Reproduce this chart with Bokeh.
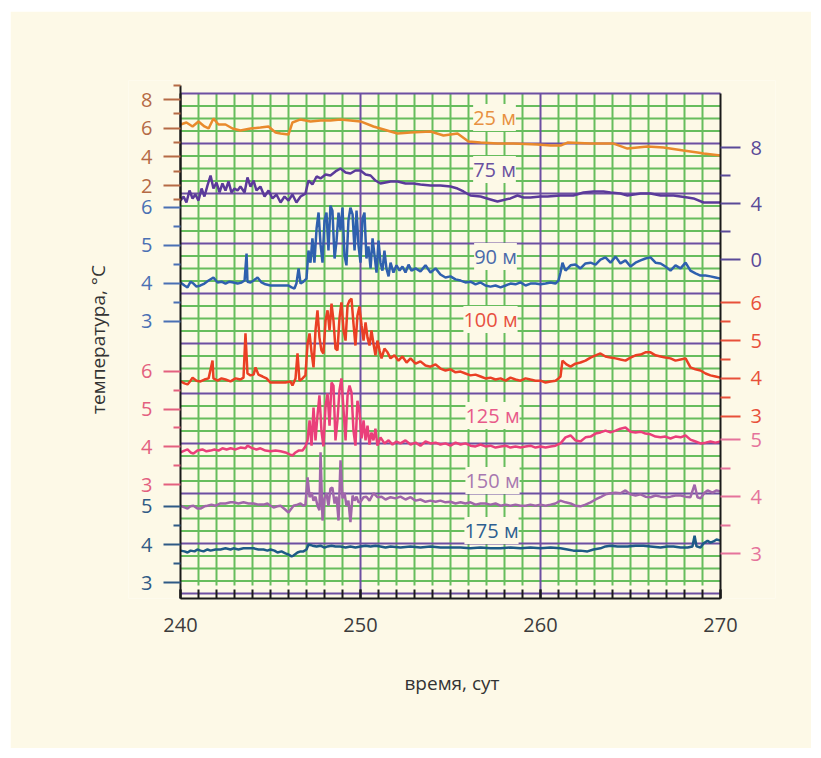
from bokeh.plotting import figure
from bokeh.models import Range1d, LinearAxis, FixedTicker, Label
from bokeh.embed import file_html
from bokeh.resources import INLINE

# ---------------- data: (day, temperature °C) ----------------
S25 = [(240.00, 6.26), (240.33, 6.40), (240.67, 6.12), (241.00, 6.47), (241.33, 6.12), (241.56, 5.98),
       (241.83, 6.68), (242.11, 6.26), (242.50, 6.26), (242.89, 5.98), (243.33, 5.84), (243.89, 5.98),
       (244.44, 6.05), (244.89, 6.12), (245.28, 5.70), (245.56, 5.63), (246.00, 5.56), (246.22, 6.40),
       (246.67, 6.61), (247.22, 6.47), (247.78, 6.54), (248.33, 6.54), (248.89, 6.61), (249.44, 6.54),
       (250.00, 6.47), (250.72, 6.12), (251.67, 5.77), (252.06, 5.63), (252.78, 5.70), (253.89, 5.77),
       (254.61, 5.49), (255.39, 5.63), (256.00, 5.07), (256.67, 5.00), (257.61, 4.93), (258.50, 4.93),
       (259.83, 4.86), (260.56, 4.79), (261.11, 4.79), (261.50, 5.00), (262.78, 4.93), (264.06, 4.93),
       (264.83, 4.58), (265.94, 4.72), (266.83, 4.66), (267.94, 4.45), (268.72, 4.31), (269.06, 4.24),
       (270.00, 4.10)]

S75 = [(240.00, 4.21), (240.17, 4.50), (240.33, 4.07), (240.50, 4.93), (240.67, 4.36), (240.83, 4.64),
       (241.00, 4.21), (241.17, 5.07), (241.33, 4.50), (241.50, 5.29), (241.67, 6.00), (241.83, 5.07),
       (242.00, 5.50), (242.17, 4.79), (242.33, 5.43), (242.50, 4.93), (242.67, 5.57), (242.83, 4.79),
       (243.00, 5.07), (243.17, 4.93), (243.33, 5.21), (243.56, 4.79), (243.72, 5.86), (243.89, 5.21),
       (244.06, 5.64), (244.22, 4.93), (244.44, 5.21), (244.67, 4.50), (244.89, 4.93), (245.11, 4.36),
       (245.33, 4.64), (245.56, 4.07), (245.78, 4.50), (246.00, 4.21), (246.22, 4.64), (246.44, 4.07),
       (246.67, 4.50), (246.94, 4.71), (247.11, 5.64), (247.33, 5.36), (247.56, 5.93), (247.78, 5.79),
       (248.06, 6.07), (248.33, 6.00), (248.61, 6.29), (248.89, 6.50), (249.17, 6.21), (249.44, 6.14),
       (249.72, 6.36), (250.00, 6.36), (250.28, 6.07), (250.56, 6.00), (250.83, 5.64), (251.11, 5.43),
       (251.67, 5.57), (252.06, 5.57), (252.50, 5.43), (252.94, 5.43), (253.33, 5.36), (253.89, 5.29),
       (254.44, 5.29), (255.00, 5.21), (255.39, 5.07), (255.72, 4.86), (256.11, 4.57), (256.67, 4.50),
       (257.22, 4.29), (257.61, 4.14), (258.06, 4.29), (258.33, 4.36), (258.72, 4.57), (259.06, 4.43),
       (259.44, 4.43), (260.00, 4.50), (260.39, 4.50), (261.11, 4.57), (261.83, 4.57), (262.39, 4.79),
       (262.94, 4.86), (263.50, 4.86), (263.89, 4.79), (264.44, 4.71), (264.83, 4.57), (265.56, 4.71),
       (266.11, 4.71), (266.67, 4.57), (267.39, 4.57), (268.17, 4.43), (268.50, 4.36), (269.06, 4.07),
       (269.56, 4.07), (270.00, 4.07)]

S90 = [(240.00, 4.02), (240.22, 3.94), (240.39, 3.89), (240.56, 4.04), (240.72, 3.99), (240.89, 3.91),
       (241.11, 3.94), (241.33, 3.99), (241.56, 4.07), (241.83, 4.15), (242.06, 4.02), (242.28, 4.04),
       (242.50, 3.99), (242.72, 4.04), (242.94, 4.02), (243.17, 3.99), (243.39, 4.02), (243.56, 4.07),
       (243.67, 4.78), (243.72, 4.04), (243.89, 4.02), (244.06, 4.07), (244.28, 4.15), (244.50, 4.02),
       (244.72, 3.97), (245.00, 3.94), (245.28, 3.94), (245.56, 3.94), (245.83, 3.94), (246.00, 3.94),
       (246.17, 3.89), (246.33, 3.86), (246.44, 3.99), (246.56, 4.39), (246.67, 3.99), (246.83, 4.04),
       (247.00, 4.12), (247.11, 4.86), (247.22, 4.54), (247.33, 5.18), (247.44, 4.54), (247.56, 5.44),
       (247.67, 5.86), (247.78, 5.02), (247.89, 4.54), (248.00, 5.65), (248.11, 5.86), (248.22, 4.86),
       (248.33, 6.04), (248.44, 5.91), (248.56, 4.65), (248.67, 5.12), (248.78, 5.86), (248.89, 5.39),
       (249.00, 5.99), (249.11, 4.73), (249.22, 4.47), (249.33, 5.65), (249.44, 5.99), (249.56, 5.81),
       (249.67, 4.86), (249.78, 5.91), (249.89, 4.99), (250.00, 4.54), (250.11, 5.70), (250.22, 5.86),
       (250.33, 4.65), (250.44, 4.97), (250.56, 4.39), (250.67, 5.18), (250.78, 4.73), (250.89, 4.28),
       (251.00, 5.12), (251.11, 4.54), (251.22, 4.33), (251.33, 4.86), (251.44, 4.39), (251.56, 4.18),
       (251.67, 4.54), (251.83, 4.28), (252.00, 4.47), (252.17, 4.33), (252.33, 4.44), (252.50, 4.28),
       (252.67, 4.49), (252.83, 4.33), (253.06, 4.39), (253.33, 4.31), (253.61, 4.47), (253.89, 4.28),
       (254.17, 4.39), (254.44, 4.23), (254.72, 4.15), (255.00, 4.18), (255.28, 4.10), (255.56, 4.07),
       (255.83, 4.02), (256.11, 4.04), (256.39, 3.97), (256.67, 4.02), (256.94, 3.94), (257.22, 3.91),
       (257.50, 3.94), (257.78, 3.89), (258.06, 3.94), (258.33, 3.99), (258.61, 3.97), (258.89, 4.02),
       (259.17, 3.94), (259.44, 3.99), (259.72, 3.99), (260.00, 3.97), (260.28, 3.99), (260.56, 4.02),
       (260.83, 3.99), (261.00, 4.07), (261.11, 4.28), (261.22, 4.54), (261.39, 4.33), (261.67, 4.47),
       (261.94, 4.49), (262.22, 4.39), (262.50, 4.52), (262.78, 4.54), (263.06, 4.49), (263.33, 4.62),
       (263.61, 4.68), (263.89, 4.54), (264.17, 4.70), (264.44, 4.52), (264.72, 4.60), (265.00, 4.44),
       (265.28, 4.54), (265.56, 4.60), (265.83, 4.65), (266.11, 4.68), (266.39, 4.54), (266.67, 4.52),
       (266.94, 4.44), (267.22, 4.33), (267.50, 4.47), (267.78, 4.39), (268.06, 4.54), (268.33, 4.33),
       (268.61, 4.26), (268.89, 4.20), (269.17, 4.20), (269.44, 4.18), (269.72, 4.15), (270.00, 4.12)]

S100 = [(240.00, 3.92), (240.22, 3.87), (240.39, 3.84), (240.56, 3.94), (240.67, 4.02), (240.89, 3.94),
        (241.11, 3.92), (241.33, 3.97), (241.56, 4.00), (241.78, 4.47), (241.83, 4.00), (242.06, 3.94),
        (242.28, 4.00), (242.50, 3.97), (242.78, 3.92), (243.06, 4.00), (243.33, 3.97), (243.50, 4.02),
        (243.61, 5.19), (243.72, 4.13), (243.89, 4.08), (244.06, 4.10), (244.17, 4.29), (244.33, 4.10),
        (244.56, 4.05), (244.78, 4.00), (245.00, 3.89), (245.28, 3.89), (245.56, 3.89), (245.83, 3.89),
        (246.11, 3.92), (246.22, 3.81), (246.39, 4.00), (246.50, 4.66), (246.61, 3.94), (246.78, 4.00),
        (246.94, 4.08), (247.06, 4.92), (247.17, 5.19), (247.28, 4.69), (247.39, 4.29), (247.50, 5.27),
        (247.61, 5.80), (247.72, 5.08), (247.83, 4.74), (247.94, 4.66), (248.06, 5.53), (248.17, 5.80),
        (248.28, 5.27), (248.39, 5.98), (248.50, 5.53), (248.61, 4.79), (248.72, 4.74), (248.83, 5.58),
        (248.94, 6.01), (249.06, 5.27), (249.17, 5.00), (249.28, 5.93), (249.39, 6.06), (249.50, 6.11),
        (249.61, 5.45), (249.72, 4.87), (249.83, 5.66), (249.94, 5.90), (250.06, 5.40), (250.17, 5.00),
        (250.28, 5.48), (250.39, 5.08), (250.50, 4.87), (250.61, 5.27), (250.72, 4.92), (250.83, 4.61),
        (250.94, 5.00), (251.06, 4.74), (251.17, 4.53), (251.33, 4.79), (251.50, 4.69), (251.67, 4.53),
        (251.89, 4.61), (252.11, 4.47), (252.33, 4.58), (252.56, 4.42), (252.78, 4.53), (253.06, 4.39),
        (253.33, 4.45), (253.61, 4.34), (253.89, 4.31), (254.17, 4.37), (254.44, 4.26), (254.72, 4.21),
        (255.00, 4.24), (255.28, 4.16), (255.56, 4.18), (255.83, 4.13), (256.11, 4.08), (256.39, 4.10),
        (256.67, 4.05), (256.94, 4.00), (257.22, 4.02), (257.50, 3.97), (257.78, 4.00), (258.06, 3.94),
        (258.33, 4.02), (258.61, 3.97), (258.89, 3.94), (259.17, 4.00), (259.44, 3.97), (259.72, 3.94),
        (260.00, 3.94), (260.28, 3.89), (260.56, 3.92), (260.83, 3.94), (261.00, 4.00), (261.11, 4.05),
        (261.22, 4.47), (261.44, 4.37), (261.67, 4.31), (261.94, 4.39), (262.22, 4.42), (262.50, 4.47),
        (262.78, 4.55), (263.06, 4.61), (263.33, 4.66), (263.61, 4.58), (263.89, 4.55), (264.17, 4.53),
        (264.44, 4.50), (264.72, 4.47), (265.00, 4.55), (265.28, 4.61), (265.56, 4.63), (265.83, 4.69),
        (266.11, 4.69), (266.39, 4.61), (266.67, 4.58), (266.94, 4.55), (267.22, 4.53), (267.50, 4.47),
        (267.78, 4.50), (268.06, 4.53), (268.33, 4.29), (268.61, 4.24), (268.89, 4.21), (269.17, 4.13),
        (269.44, 4.08), (269.72, 4.05), (270.00, 4.02)]

S125 = [(240.00, 3.85), (240.22, 3.90), (240.39, 3.93), (240.56, 3.85), (240.72, 3.82), (240.94, 3.90),
        (241.22, 3.93), (241.44, 3.88), (241.67, 3.90), (241.89, 3.93), (242.11, 3.90), (242.33, 3.96),
        (242.56, 3.93), (242.78, 3.96), (243.06, 3.93), (243.33, 3.98), (243.61, 3.96), (243.72, 4.03),
        (244.00, 3.96), (244.22, 3.93), (244.44, 3.96), (244.72, 3.90), (245.00, 3.88), (245.28, 3.90),
        (245.56, 3.88), (245.83, 3.85), (246.06, 3.80), (246.22, 3.77), (246.39, 3.85), (246.56, 3.90),
        (246.78, 3.90), (246.94, 4.01), (247.06, 4.17), (247.17, 4.70), (247.28, 4.03), (247.39, 5.04),
        (247.50, 4.17), (247.61, 4.83), (247.72, 5.36), (247.83, 4.43), (247.94, 4.01), (248.06, 5.09),
        (248.17, 5.41), (248.28, 4.56), (248.39, 5.70), (248.50, 5.62), (248.61, 4.17), (248.72, 4.70),
        (248.83, 5.49), (248.94, 5.81), (249.06, 4.96), (249.17, 4.17), (249.28, 5.36), (249.39, 5.62),
        (249.50, 5.44), (249.61, 4.43), (249.72, 4.03), (249.83, 5.22), (249.94, 4.96), (250.06, 4.22),
        (250.17, 4.70), (250.28, 4.17), (250.39, 4.56), (250.50, 4.06), (250.61, 4.38), (250.72, 4.17),
        (250.83, 4.48), (250.94, 4.03), (251.11, 4.25), (251.33, 4.09), (251.56, 4.17), (251.78, 4.06),
        (252.00, 4.14), (252.22, 4.09), (252.50, 4.17), (252.78, 4.06), (253.06, 4.11), (253.33, 4.03),
        (253.61, 4.14), (253.89, 4.09), (254.17, 4.11), (254.44, 4.06), (254.72, 4.09), (255.00, 4.03),
        (255.28, 4.11), (255.56, 4.06), (255.83, 4.09), (256.11, 4.03), (256.39, 4.01), (256.67, 4.06),
        (256.94, 4.01), (257.22, 4.03), (257.50, 3.98), (257.78, 4.01), (258.06, 4.03), (258.33, 3.98),
        (258.61, 4.01), (258.89, 3.98), (259.17, 4.01), (259.44, 4.03), (259.72, 3.98), (260.00, 4.01),
        (260.28, 3.98), (260.56, 4.01), (260.83, 4.03), (261.11, 4.09), (261.39, 4.25), (261.67, 4.30),
        (261.94, 4.17), (262.22, 4.14), (262.50, 4.25), (262.78, 4.27), (263.06, 4.35), (263.33, 4.38),
        (263.61, 4.43), (263.89, 4.38), (264.17, 4.43), (264.44, 4.48), (264.72, 4.51), (265.00, 4.40),
        (265.28, 4.38), (265.56, 4.40), (265.83, 4.35), (266.11, 4.33), (266.39, 4.27), (266.67, 4.25),
        (266.94, 4.27), (267.22, 4.22), (267.50, 4.27), (267.78, 4.25), (268.06, 4.30), (268.33, 4.19),
        (268.61, 4.14), (268.89, 4.09), (269.17, 4.11), (269.44, 4.14), (269.72, 4.11), (270.00, 4.14)]

S150 = [(240.00, 3.84), (240.22, 3.81), (240.39, 3.79), (240.56, 3.83), (240.72, 3.84), (240.94, 3.79),
        (241.11, 3.79), (241.33, 3.83), (241.50, 3.84), (241.72, 3.86), (241.94, 3.84), (242.22, 3.88),
        (242.50, 3.88), (242.78, 3.90), (242.94, 3.90), (243.22, 3.88), (243.50, 3.90), (243.78, 3.88),
        (244.06, 3.88), (244.33, 3.86), (244.61, 3.86), (244.83, 3.88), (245.00, 3.84), (245.17, 3.81),
        (245.39, 3.83), (245.56, 3.84), (245.83, 3.77), (246.00, 3.72), (246.11, 3.77), (246.28, 3.84),
        (246.50, 3.86), (246.67, 3.88), (246.83, 3.84), (246.94, 3.86), (247.06, 4.34), (247.17, 3.99),
        (247.28, 4.07), (247.39, 3.93), (247.50, 4.00), (247.61, 3.84), (247.72, 3.76), (247.78, 4.78),
        (247.89, 3.58), (248.00, 3.97), (248.11, 4.06), (248.22, 3.84), (248.33, 4.14), (248.44, 4.16),
        (248.56, 3.88), (248.67, 4.00), (248.78, 3.58), (248.89, 4.64), (249.00, 3.97), (249.11, 4.07),
        (249.22, 3.84), (249.33, 3.93), (249.44, 3.55), (249.56, 4.02), (249.67, 3.93), (249.78, 4.00),
        (249.89, 3.90), (250.00, 3.91), (250.17, 3.99), (250.33, 4.00), (250.50, 3.93), (250.72, 4.06),
        (250.94, 3.99), (251.17, 4.00), (251.39, 3.95), (251.67, 3.99), (251.94, 3.97), (252.22, 4.00),
        (252.50, 3.95), (252.78, 3.99), (253.06, 3.93), (253.33, 3.95), (253.61, 3.91), (253.89, 3.93),
        (254.17, 3.91), (254.44, 3.93), (254.72, 3.90), (255.00, 3.91), (255.28, 3.88), (255.56, 3.90),
        (255.83, 3.88), (256.11, 3.90), (256.39, 3.86), (256.67, 3.88), (256.94, 3.88), (257.22, 3.86),
        (257.50, 3.88), (257.78, 3.84), (258.06, 3.86), (258.33, 3.84), (258.61, 3.86), (258.89, 3.84),
        (259.17, 3.84), (259.44, 3.86), (259.72, 3.84), (260.00, 3.86), (260.28, 3.84), (260.56, 3.86),
        (260.83, 3.88), (261.11, 3.93), (261.39, 3.90), (261.67, 3.88), (261.94, 3.84), (262.22, 3.83),
        (262.50, 3.86), (262.78, 3.90), (263.06, 3.95), (263.33, 3.99), (263.61, 4.04), (263.89, 4.06),
        (264.17, 4.07), (264.44, 4.06), (264.72, 4.11), (265.00, 4.04), (265.28, 4.02), (265.56, 4.04),
        (265.83, 4.00), (266.11, 3.99), (266.39, 4.02), (266.67, 4.00), (266.94, 3.99), (267.22, 4.00),
        (267.50, 4.02), (267.78, 4.02), (268.06, 4.00), (268.33, 3.99), (268.56, 4.21), (268.72, 3.99),
        (268.89, 3.97), (269.11, 4.07), (269.28, 4.11), (269.56, 4.07), (269.78, 4.11), (270.00, 4.09)]

S175 = [(240.00, 3.84), (240.22, 3.82), (240.39, 3.79), (240.56, 3.84), (240.78, 3.82), (240.94, 3.87),
        (241.11, 3.84), (241.28, 3.82), (241.50, 3.87), (241.67, 3.84), (241.94, 3.87), (242.22, 3.87),
        (242.50, 3.90), (242.78, 3.87), (242.94, 3.90), (243.22, 3.87), (243.50, 3.90), (243.78, 3.90),
        (244.06, 3.90), (244.33, 3.87), (244.61, 3.87), (244.83, 3.84), (245.00, 3.87), (245.22, 3.84),
        (245.39, 3.79), (245.61, 3.82), (245.83, 3.77), (246.00, 3.74), (246.17, 3.69), (246.28, 3.71),
        (246.50, 3.79), (246.67, 3.82), (246.83, 3.82), (247.00, 3.87), (247.11, 4.00), (247.33, 3.97),
        (247.56, 3.95), (247.78, 3.97), (248.00, 3.92), (248.17, 3.95), (248.39, 3.97), (248.61, 3.95),
        (248.89, 3.95), (249.17, 3.92), (249.44, 3.95), (249.72, 3.92), (250.00, 3.95), (250.28, 3.97),
        (250.56, 3.95), (250.83, 3.97), (251.11, 3.95), (251.39, 3.92), (251.67, 3.95), (252.22, 3.92),
        (252.78, 3.95), (253.33, 3.92), (253.89, 3.95), (254.44, 3.92), (255.00, 3.92), (255.56, 3.92),
        (256.11, 3.90), (256.67, 3.92), (257.22, 3.90), (257.78, 3.90), (258.33, 3.92), (258.89, 3.90),
        (259.44, 3.92), (260.00, 3.90), (260.56, 3.92), (261.11, 3.90), (261.50, 3.87), (261.83, 3.84),
        (262.22, 3.84), (262.61, 3.82), (262.94, 3.87), (263.33, 3.90), (263.61, 3.95), (263.89, 3.97),
        (264.28, 3.95), (264.83, 3.95), (265.28, 3.97), (265.72, 3.97), (266.11, 3.95), (266.67, 3.92),
        (267.06, 3.95), (267.39, 3.95), (267.78, 3.92), (268.17, 3.92), (268.44, 3.95), (268.56, 4.23),
        (268.67, 3.95), (268.89, 3.92), (269.06, 4.03), (269.28, 4.10), (269.44, 4.05), (269.61, 4.08),
        (269.78, 4.13), (270.00, 4.10)]

DEPTH_LABELS = ["25 м", "75 м", "90 м", "100 м", "125 м", "150 м", "175 м"]
X_TICKS = [240, 250, 260, 270]
X_TITLE = "время, сут"
Y_TITLE = "температура, °C"

# ---------------- layout constants (page pixels) ----------------
CREAM = "#fdf9e7"
GREEN = "#67bd5d"
PURPLE = "#6d4fa2"
FONT = "Open Sans"
PAGE_L, PAGE_T, PAGE_R, PAGE_B = 10, 11, 811, 748
FRAME_L, FRAME_R, FRAME_T, FRAME_B = 128, 775, 80, 598
BOX_L, BOX_R = 180, 720
PX_DAY = 18.0
DAY0, DAY1 = 240, 270
ROW0_Y, ROW_PX = 593.0, 12.5


def row_of(y):
    return (ROW0_Y - y) / ROW_PX


def day_of(x):
    return DAY0 + (x - BOX_L) / PX_DAY


def value_range(vref, yref, ppd):
    return Range1d(vref + (yref - FRAME_B) / ppd, vref + (yref - FRAME_T) / ppd)


p = figure(width=PAGE_R - PAGE_L, height=PAGE_B - PAGE_T, margin=(PAGE_T, 10, 10, PAGE_L),
           x_range=Range1d(day_of(FRAME_L), day_of(FRAME_R)),
           y_range=Range1d(row_of(FRAME_B), row_of(FRAME_T)),
           output_backend="svg", toolbar_location=None, y_axis_location=None,
           min_border_left=FRAME_L - PAGE_L, min_border_right=PAGE_R - FRAME_R,
           min_border_top=FRAME_T - PAGE_T, min_border_bottom=PAGE_B - FRAME_B,
           background_fill_color=CREAM, border_fill_color=CREAM, outline_line_color=None)
p.grid.visible = False

# per-series value scales: (value, page y of that value, px per °C)
p.extra_y_ranges = {
    "t25": value_range(6, 127.7, 14.35),
    "t75": value_range(8, 147.0, 14.0),
    "t90": value_range(6, 206.7, 38.0),
    "t100": value_range(6, 302.3, 37.8),
    "t125": value_range(6, 370.7, 37.8),
    "t150": value_range(5, 439.3, 56.85),
    "t175": value_range(5, 505.7, 38.3),
}

# ---------------- graph-paper grid ----------------
rows = list(range(0, 41))
green_rows = [r for r in rows if r % 4]
purple_rows = [r for r in rows if r % 4 == 0]
green_days = [d for d in range(DAY0 + 1, DAY1) if d % 10]
purple_days = [d for d in range(DAY0 + 1, DAY1) if d % 10 == 0]

p.segment(x0=DAY0, x1=DAY1, y0=green_rows, y1=green_rows, line_color=GREEN, line_width=2)
p.segment(x0=green_days, x1=green_days, y0=row_of(585), y1=40, line_color=GREEN, line_width=2)
p.segment(x0=DAY0, x1=DAY1, y0=purple_rows, y1=purple_rows, line_color=PURPLE, line_width=2)
p.segment(x0=purple_days, x1=purple_days, y0=row_of(FRAME_B), y1=40, line_color=PURPLE, line_width=2)

# ---------------- series ----------------
series = [
    ("t25", S25, "#e98a2c"),
    ("t75", S75, "#5b3a9a"),
    ("t90", S90, "#2f60ae"),
    ("t100", S100, "#ea3f24"),
    ("t125", S125, "#ea3f7a"),
    ("t150", S150, "#a066aa"),
    ("t175", S175, "#1d5b86"),
]
for name, data, color in series:
    days, temps = zip(*data)
    p.line(list(days), list(temps), y_range_name=name, line_color=color, line_width=2.5)

# box border (left/right)
p.segment(x0=[DAY0, DAY1], x1=[DAY0, DAY1], y0=row_of(FRAME_B), y1=40, line_color="#1a1a1a", line_width=2)

# ---------------- per-series y axes ----------------
axes = [
    ("t25", "left", [2, 4, 6, 8], [1, 3, 5, 7, 9], (1, 9), "#b56a45", "#1a1a1a"),
    ("t90", "left", [3, 4, 5, 6], [3.5, 4.5, 5.5], (3, 6), "#4a70b4", None),
    ("t125", "left", [3, 4, 5, 6], [3.5, 4.5, 5.5], (3, 6), "#e3607f", None),
    ("t175", "left", [3, 4, 5], [3.5, 4.5], (3, 5), "#2f5a85", None),
    ("t75", "right", [0, 4, 8], [2, 6], (0, 8), "#5a4a98", None),
    ("t100", "right", [3, 4, 5, 6], [3.5, 4.5, 5.5], (3, 6), "#e8503a", None),
    ("t150", "right", [3, 4, 5], [3.5, 4.5], (3, 5), "#e5739b", None),
]
for name, side, major, minor, bounds, color, line_color in axes:
    left = side == "left"
    ax = LinearAxis(y_range_name=name, fixed_location=DAY0 if left else DAY1, bounds=bounds,
                    ticker=FixedTicker(ticks=major, minor_ticks=minor),
                    axis_line_color=line_color, axis_line_width=2,
                    major_tick_line_color=color, minor_tick_line_color=color,
                    major_tick_line_width=2, minor_tick_line_width=2,
                    major_tick_in=0, minor_tick_in=0,
                    major_tick_out=17 if left else 20, minor_tick_out=7 if left else 10,
                    major_label_text_color=color, major_label_text_font=FONT,
                    major_label_text_font_size="20px", major_label_standoff=11 if left else 10)
    p.add_layout(ax, side)

# y title as an axis label
title_axis = LinearAxis(ticker=FixedTicker(ticks=[]), bounds=(row_of(593), row_of(107)),
                        axis_line_color=None, major_tick_line_color=None, minor_tick_line_color=None,
                        axis_label=Y_TITLE, axis_label_standoff=18,
                        axis_label_text_font=FONT, axis_label_text_font_size="19px",
                        axis_label_text_font_style="normal", axis_label_text_color="#333333")
p.add_layout(title_axis, "left")

# x axis
xa = p.xaxis[0]
xa.bounds = (DAY0, DAY1)
xa.ticker = FixedTicker(ticks=X_TICKS, minor_ticks=list(range(DAY0, DAY1 + 1)))
xa.major_tick_in = 9
xa.major_tick_out = 0
xa.minor_tick_in = 9
xa.minor_tick_out = 0
xa.axis_line_color = "#1a1a1a"
xa.axis_line_width = 2
xa.major_tick_line_color = "#1a1a1a"
xa.minor_tick_line_color = "#1a1a1a"
xa.major_tick_line_width = 2
xa.minor_tick_line_width = 2
xa.major_label_text_font = FONT
xa.major_label_text_font_size = "20px"
xa.major_label_text_color = "#3c3c3c"
xa.major_label_standoff = 19
xa.axis_label = X_TITLE
xa.axis_label_standoff = 35
xa.axis_label_text_font = FONT
xa.axis_label_text_font_size = "19px"
xa.axis_label_text_font_style = "normal"
xa.axis_label_text_color = "#333333"

# ---------------- depth labels ----------------
label_pos = [(494, 117), (494, 169), (495, 256), (490, 319), (492, 415), (492, 480), (491, 530)]
label_colors = ["#e89040", "#6a50a0", "#4a6aaa", "#e85040", "#e85a8a", "#a878b0", "#2d5f90"]
for text, (px, py), color in zip(DEPTH_LABELS, label_pos, label_colors):
    p.add_layout(Label(x=day_of(px), y=row_of(py), text=text, text_align="center",
                       text_baseline="middle", text_color=color, text_font=FONT,
                       text_font_size="20px", background_fill_color=CREAM))

open("out.html", "w").write(file_html(p, INLINE))
